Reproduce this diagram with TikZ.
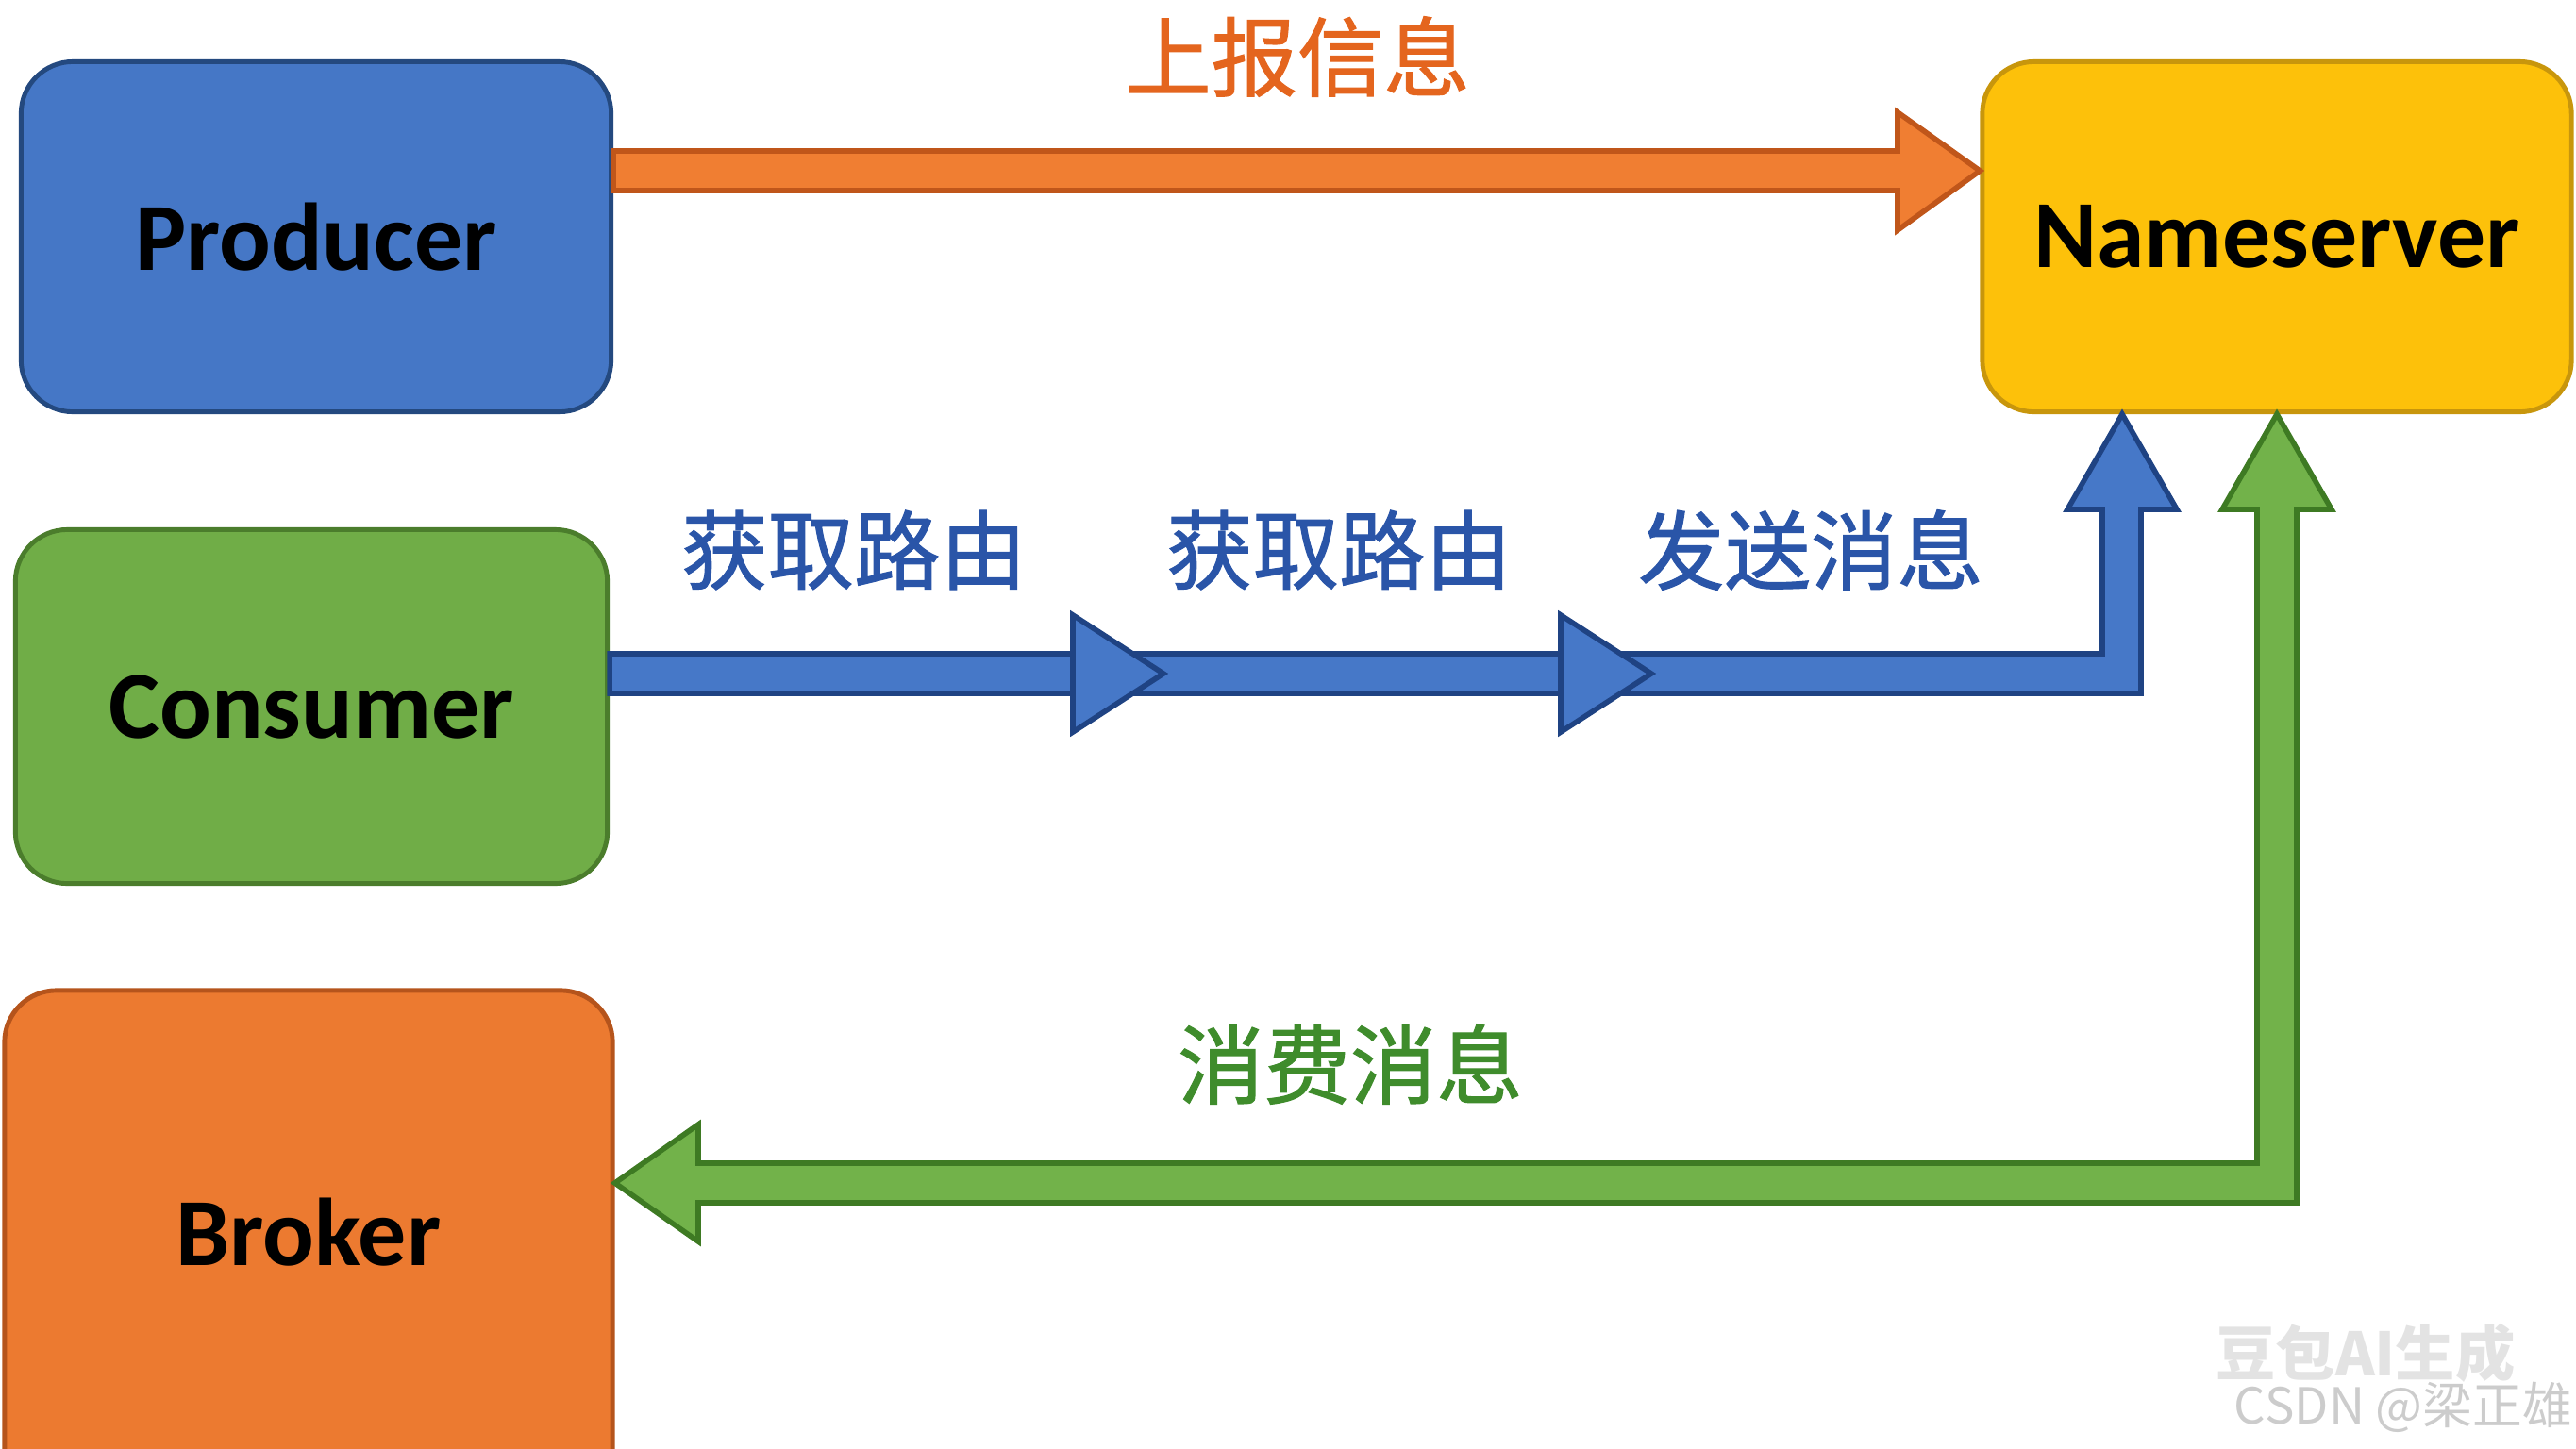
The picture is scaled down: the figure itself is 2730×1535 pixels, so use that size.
\documentclass[tikz,border=0pt]{standalone}
\usepackage{fontspec}
\setmainfont{Carlito}
\newfontfamily\cjk{Noto Sans CJK SC}
\newfontfamily\cjklabel[FakeBold=1.2]{Noto Sans CJK SC}
\usetikzlibrary{calc}
\definecolor{prodblue}{HTML}{4577C6}
\definecolor{prodline}{HTML}{24497F}
\definecolor{consgreen}{HTML}{70AD47}
\definecolor{consline}{HTML}{4B7D2C}
\definecolor{brokorange}{HTML}{EC7A30}
\definecolor{brokline}{HTML}{B5541C}
\definecolor{nsyellow}{HTML}{FDC10A}
\definecolor{nsline}{HTML}{C8960C}
\definecolor{arrorange}{HTML}{F07E32}
\definecolor{arrorangeline}{HTML}{C0561A}
\definecolor{arrblue}{HTML}{4678C8}
\definecolor{arrblueline}{HTML}{1F4383}
\definecolor{arrgreen}{HTML}{72B24A}
\definecolor{arrgreenline}{HTML}{3E7A23}
\definecolor{txtorange}{HTML}{E4651E}
\definecolor{txtblue}{HTML}{2A55A8}
\definecolor{txtgreen}{HTML}{3F8C2C}
\tikzset{
  box/.style={rounded corners=5.5mm, line width=1.4pt, minimum width=6.25cm,
    minimum height=3.71cm, font=\bfseries\fontsize{29}{34}\selectfont},
  flowlabel/.style={font=\cjklabel\fontsize{26}{30}\selectfont},
  blockarrow/.style={line width=1.6pt, line join=miter}
}
\begin{document}
\begin{tikzpicture}[x=0.01cm,y=-0.01cm]
\useasboundingbox (0,0) rectangle (2730,1535);
% boxes
\node[box, fill=prodblue, draw=prodline] (prod) at (335,251) {Producer};
\node[box, fill=consgreen, draw=consline, minimum width=6.27cm, minimum height=3.75cm] (cons) at (330,749) {Consumer};
\node[box, fill=brokorange, draw=brokline, minimum width=6.44cm, minimum height=5.4cm] (broker) at (327,1320) {\raisebox{8pt}{Broker}};
\node[box, fill=nsyellow, draw=nsline, minimum width=6.24cm] (ns) at (2413,251) {Nameserver};
% orange arrow
\draw[blockarrow, fill=arrorange, draw=arrorangeline] (prod.east |- 0,160) -- (2011,160) -- (2011,119)
  -- (ns.west |- 0,181) -- (2011,244) -- (2011,202) -- (prod.east |- 0,202) -- cycle;
% blue arrow
\draw[blockarrow, fill=arrblue, draw=arrblueline] (cons.east |- 0,693) -- (2228,693) -- (2228,540) -- (2191,540)
  -- (2249,0 |- ns.south) -- (2307,540) -- (2269,540) -- (2269,735) -- (cons.east |- 0,735) -- cycle;
\foreach \hx in {1137,1654}
  \draw[blockarrow, fill=arrblue, draw=arrblueline] (\hx,652) -- ({\hx+96},714) -- (\hx,776) -- cycle;
% green arrow
\draw[blockarrow, fill=arrgreen, draw=arrgreenline] (ns.south) -- (2471,540) -- (2434,540) -- (2434,1275)
  -- (740,1275) -- (740,1316) -- (broker.east |- 0,1254) -- (740,1192) -- (740,1233) -- (2392,1233)
  -- (2392,540) -- (2355,540) -- cycle;
% labels
\node[flowlabel, text=txtorange] (report) at (1375,60) {上报信息};
\node[flowlabel, text=txtblue] (route1) at (905,583) {获取路由};
\node[flowlabel, text=txtblue] (route2) at (1419,583) {获取路由};
\node[flowlabel, text=txtblue] (send) at (1919,583) {发送消息};
\node[flowlabel, text=txtgreen] (consume) at (1431,1128) {消费消息};
% watermark
\node[font=\cjk\bfseries\fontsize{18}{20}\selectfont, text=gray!22, inner sep=0pt] (mark) at (2507,1434) {豆包AI生成};
\node[font=\cjk\fontsize{15}{17}\selectfont, text=gray!40, inner sep=0pt] (csdn) at (2547,1492) {CSDN @梁正雄};
\end{tikzpicture}
\end{document}
